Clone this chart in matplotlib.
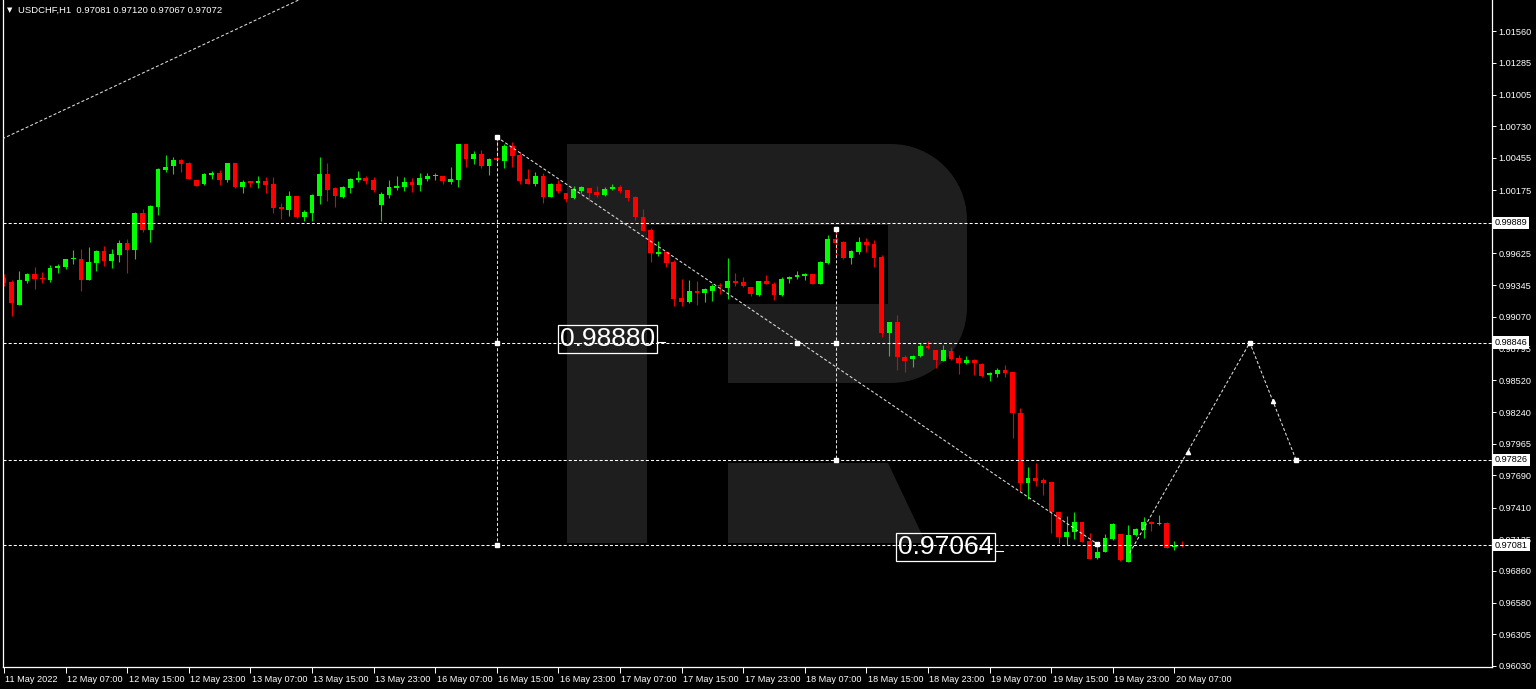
import matplotlib
matplotlib.use('Agg')
import matplotlib.pyplot as plt
import matplotlib.transforms as mtransforms
from matplotlib.path import Path
from matplotlib.patches import PathPatch
import numpy as np

plt.rcParams['font.family'] = ['Liberation Sans', 'DejaVu Sans']
plt.rcParams['lines.scale_dashes'] = False

# ---------------- data (USDCHF H1, 11 May 23:00 .. 20 May 08:00) ----------------
opens = [0.99412, 0.99377, 0.99174, 0.99386, 0.99444, 0.99412, 0.99392, 0.99493, 0.99508, 0.99572,
         0.99575, 0.99392, 0.99543, 0.99644, 0.99560, 0.99609, 0.99711, 0.99653, 0.99978, 0.99827,
         1.00030, 1.00350, 1.00382, 1.00437, 1.00408, 1.00263, 1.00225, 1.00309, 1.00326, 1.00263,
         1.00408, 1.00205, 1.00251, 1.00239, 1.00254, 1.00231, 1.00027, 1.00001, 1.00123, 0.99938,
         0.99978, 1.00123, 1.00318, 1.00190, 1.00118, 1.00190, 1.00263, 1.00280, 1.00263, 1.00045,
         1.00132, 1.00196, 1.00205, 1.00248, 1.00219, 1.00271, 1.00295, 1.00297, 1.00242, 1.00263,
         1.00576, 1.00446, 1.00489, 1.00385, 1.00451, 1.00431, 1.00559, 1.00483, 1.00268, 1.00228,
         1.00297, 1.00117, 1.00228, 1.00146, 1.00106, 1.00167, 1.00196, 1.00158, 1.00132, 1.00181,
         1.00204, 1.00172, 1.00114, 0.99943, 0.99827, 0.99618, 0.99635, 0.99551, 0.99232, 0.99203,
         0.99299, 0.99276, 0.99299, 0.99348, 0.99325, 0.99383, 0.99371, 0.99334, 0.99261, 0.99383,
         0.99357, 0.99261, 0.99400, 0.99415, 0.99429, 0.99444, 0.99357, 0.99543, 0.99746, 0.99725,
         0.99586, 0.99633, 0.99725, 0.99702, 0.99595, 0.98927, 0.99023, 0.98724, 0.98701, 0.98730,
         0.98817, 0.98782, 0.98689, 0.98776, 0.98712, 0.98672, 0.98695, 0.98660, 0.98561, 0.98573,
         0.98608, 0.98587, 0.98236, 0.97621, 0.97664, 0.97650, 0.97629, 0.97374, 0.97156, 0.97194,
         0.97287, 0.97118, 0.96968, 0.97026, 0.97133, 0.97179, 0.96938, 0.97171, 0.97214, 0.97287,
         0.97267, 0.97278, 0.97069, 0.97081]
highs = [0.99441, 0.99392, 0.99470, 0.99456, 0.99508, 0.99459, 0.99522, 0.99528, 0.99575, 0.99653,
         0.99662, 0.99679, 0.99653, 0.99688, 0.99662, 0.99740, 0.99752, 0.99987, 1.00010, 1.00045,
         1.00364, 1.00480, 1.00460, 1.00448, 1.00416, 1.00263, 1.00321, 1.00341, 1.00350, 1.00408,
         1.00408, 1.00263, 1.00257, 1.00297, 1.00286, 1.00286, 1.00065, 1.00167, 1.00123, 1.00001,
         1.00141, 1.00466, 1.00408, 1.00205, 1.00210, 1.00277, 1.00341, 1.00297, 1.00292, 1.00161,
         1.00263, 1.00297, 1.00292, 1.00283, 1.00321, 1.00326, 1.00321, 1.00297, 1.00379, 1.00576,
         1.00576, 1.00518, 1.00524, 1.00457, 1.00640, 1.00576, 1.00596, 1.00503, 1.00355, 1.00335,
         1.00321, 1.00239, 1.00262, 1.00146, 1.00210, 1.00213, 1.00196, 1.00213, 1.00199, 1.00228,
         1.00216, 1.00172, 1.00123, 1.00007, 0.99842, 0.99734, 0.99647, 0.99566, 0.99397, 0.99392,
         0.99380, 0.99319, 0.99357, 0.99363, 0.99580, 0.99450, 0.99415, 0.99334, 0.99383, 0.99435,
         0.99371, 0.99415, 0.99429, 0.99470, 0.99455, 0.99444, 0.99557, 0.99783, 0.99836, 0.99734,
         0.99653, 0.99769, 0.99754, 0.99740, 0.99609, 0.99023, 0.99087, 0.98738, 0.98738, 0.98840,
         0.98863, 0.98782, 0.98825, 0.98811, 0.98741, 0.98730, 0.98701, 0.98666, 0.98587, 0.98628,
         0.98651, 0.98587, 0.98274, 0.97766, 0.97795, 0.97670, 0.97629, 0.97374, 0.97336, 0.97368,
         0.97287, 0.97185, 0.97098, 0.97177, 0.97272, 0.97179, 0.97258, 0.97229, 0.97330, 0.97296,
         0.97345, 0.97287, 0.97118, 0.97120]
lows = [0.99340, 0.99081, 0.99174, 0.99369, 0.99311, 0.99369, 0.99377, 0.99456, 0.99485, 0.99528,
        0.99299, 0.99392, 0.99470, 0.99517, 0.99499, 0.99551, 0.99450, 0.99578, 0.99810, 0.99726,
        0.99961, 1.00335, 1.00315, 1.00335, 1.00271, 1.00213, 1.00219, 1.00271, 1.00219, 1.00248,
        1.00196, 1.00152, 1.00205, 1.00196, 1.00147, 0.99978, 0.99920, 0.99952, 0.99929, 0.99906,
        0.99906, 1.00054, 1.00080, 1.00025, 1.00109, 1.00147, 1.00242, 1.00228, 1.00155, 0.99906,
        1.00103, 1.00176, 1.00170, 1.00155, 1.00170, 1.00254, 1.00263, 1.00228, 1.00228, 1.00205,
        1.00373, 1.00399, 1.00364, 1.00306, 1.00408, 1.00364, 1.00373, 1.00225, 1.00225, 1.00213,
        1.00065, 1.00112, 1.00152, 1.00071, 1.00100, 1.00152, 1.00080, 1.00117, 1.00123, 1.00175,
        1.00152, 1.00080, 0.99914, 0.99818, 0.99551, 0.99601, 0.99502, 0.99168, 0.99168, 0.99194,
        0.99174, 0.99203, 0.99211, 0.99270, 0.99226, 0.99342, 0.99334, 0.99252, 0.99255, 0.99354,
        0.99217, 0.99255, 0.99363, 0.99397, 0.99392, 0.99354, 0.99354, 0.99531, 0.99609, 0.99572,
        0.99531, 0.99618, 0.99638, 0.99502, 0.98898, 0.98730, 0.98608, 0.98593, 0.98637, 0.98724,
        0.98788, 0.98622, 0.98689, 0.98695, 0.98573, 0.98657, 0.98564, 0.98550, 0.98515, 0.98550,
        0.98544, 0.98012, 0.97557, 0.97481, 0.97600, 0.97519, 0.97185, 0.97098, 0.97084, 0.97136,
        0.97113, 0.96959, 0.96962, 0.97020, 0.97127, 0.96947, 0.96933, 0.97165, 0.97142, 0.97208,
        0.97258, 0.97055, 0.97040, 0.97067]
closes = [0.99369, 0.99189, 0.99392, 0.99444, 0.99400, 0.99398, 0.99499, 0.99517, 0.99575, 0.99586,
          0.99392, 0.99551, 0.99644, 0.99557, 0.99618, 0.99711, 0.99653, 0.99978, 0.99824, 1.00036,
          1.00356, 1.00379, 1.00437, 1.00399, 1.00271, 1.00213, 1.00315, 1.00326, 1.00263, 1.00408,
          1.00205, 1.00248, 1.00239, 1.00254, 1.00219, 1.00019, 1.00007, 1.00123, 0.99943, 0.99987,
          1.00132, 1.00318, 1.00176, 1.00123, 1.00205, 1.00271, 1.00280, 1.00254, 1.00176, 1.00141,
          1.00205, 1.00213, 1.00248, 1.00219, 1.00283, 1.00300, 1.00309, 1.00257, 1.00271, 1.00576,
          1.00443, 1.00489, 1.00385, 1.00448, 1.00434, 1.00561, 1.00474, 1.00254, 1.00228, 1.00297,
          1.00117, 1.00228, 1.00164, 1.00100, 1.00181, 1.00199, 1.00149, 1.00135, 1.00187, 1.00204,
          1.00167, 1.00109, 0.99940, 0.99818, 0.99624, 0.99638, 0.99543, 0.99226, 0.99203, 0.99299,
          0.99276, 0.99316, 0.99342, 0.99339, 0.99383, 0.99363, 0.99342, 0.99270, 0.99383, 0.99354,
          0.99261, 0.99400, 0.99421, 0.99438, 0.99444, 0.99357, 0.99548, 0.99746, 0.99717, 0.99586,
          0.99644, 0.99725, 0.99696, 0.99586, 0.98927, 0.99023, 0.98724, 0.98689, 0.98730, 0.98817,
          0.98802, 0.98695, 0.98782, 0.98706, 0.98672, 0.98695, 0.98666, 0.98555, 0.98579, 0.98608,
          0.98579, 0.98236, 0.97621, 0.97664, 0.97644, 0.97621, 0.97374, 0.97156, 0.97194, 0.97287,
          0.97113, 0.96962, 0.97026, 0.97142, 0.97267, 0.96953, 0.97171, 0.97223, 0.97287, 0.97267,
          0.97278, 0.97060, 0.97078, 0.97072]

symbol = "USDCHF,H1"
x_tick_bars = [0, 8, 16, 24, 32, 40, 48, 56, 64, 72, 80, 88, 96, 104, 112, 120, 128, 136, 144, 152]
x_tick_labels = ["11 May 2022", "12 May 07:00", "12 May 15:00", "12 May 23:00", "13 May 07:00",
                 "13 May 15:00", "13 May 23:00", "16 May 07:00", "16 May 15:00", "16 May 23:00",
                 "17 May 07:00", "17 May 15:00", "17 May 23:00", "18 May 07:00", "18 May 15:00",
                 "18 May 23:00", "19 May 07:00", "19 May 15:00", "19 May 23:00", "20 May 07:00"]
y_ticks = [1.01560, 1.01285, 1.01005, 1.00730, 1.00455, 1.00175, 0.99900, 0.99625, 0.99345,
           0.99070, 0.98795, 0.98520, 0.98240, 0.97965, 0.97690, 0.97410, 0.97135, 0.96860,
           0.96580, 0.96305, 0.96030]
hidden_y_ticks = [0.99900]   # fully covered by the 0.99889 level box in the reference

h_levels = [0.99889, 0.98846, 0.97826, 0.97081]
vline1_bar, vline1_top, vline1_bottom = 64, 1.00637, 0.97081
vline2_bar, vline2_top, vline2_bottom = 108, 0.99836, 0.97826
trend_bars = [64, 142]
trend_prices = [1.00637, 0.97092]
old_trend_bars = [-0.2, 38.5]
old_trend_prices = [1.00621, 1.01837]
forecast_bars = [146.2, 161.8, 167.8]
forecast_prices = [0.97014, 0.98846, 0.97826]
forecast_arrow_bars = [153.8, 164.8]
forecast_arrow_prices = [0.97894, 0.98338]
anchor_bars = [64, 64, 64, 108, 108, 108, 103, 142]
anchor_prices = [1.00637, 0.98846, 0.97081, 0.99836, 0.98846, 0.97826, 0.98846, 0.97092]
text_labels = ["0.98880", "0.97064"]
text_bars = [78.4, 122.3]
text_prices = [0.98880, 0.97064]

# ---------------- figure ----------------
W, H = 1536, 689
fig = plt.figure(figsize=(W / 100, H / 100), dpi=100, facecolor='black')
PL, PR, PB, PT = 3, 1492, 667, 0
ax = fig.add_axes([PL / W, 1 - PB / H, (PR - PL) / W, (PB - PT) / H])
ax.set_facecolor('black')
ax.set_xlim(-0.117, 193.25)
ax.set_ylim(0.96021, 1.01830)

# watermark "R" logo (pixel geometry)
pix = mtransforms.Affine2D().scale(1 / W, -1 / H).translate(0, 1) + fig.transFigure
k = 0.55
r = 76
verts = [(567, 144), (967 - r, 144),
         (967 - r + k * r, 144), (967, 144 + r - k * r), (967, 144 + r),
         (967, 383 - r),
         (967, 383 - r + k * r), (967 - r + k * r, 383), (967 - r, 383),
         (728, 383), (728, 304), (888, 304), (888, 225), (647, 225), (647, 543), (567, 543), (567, 144)]
codes = [Path.MOVETO, Path.LINETO,
         Path.CURVE4, Path.CURVE4, Path.CURVE4,
         Path.LINETO,
         Path.CURVE4, Path.CURVE4, Path.CURVE4,
         Path.LINETO, Path.LINETO, Path.LINETO, Path.LINETO, Path.LINETO, Path.LINETO, Path.LINETO,
         Path.CLOSEPOLY]
logo = PathPatch(Path(verts, codes), transform=pix, facecolor='#1e1e1e', edgecolor='none', zorder=0.5)
ax.add_patch(logo)
leg = PathPatch(Path([(728, 463), (888, 463), (926, 543), (728, 543), (728, 463)],
                     [Path.MOVETO, Path.LINETO, Path.LINETO, Path.LINETO, Path.CLOSEPOLY]),
                transform=pix, facecolor='#1e1e1e', edgecolor='none', zorder=0.5)
ax.add_patch(leg)

# candles
o = np.array(opens); hh = np.array(highs); ll = np.array(lows); c = np.array(closes)
xb = np.arange(len(o))
up = c >= o
body_col = np.where(up, '#00ff00', '#ff0000')
wick_col = np.where(up, '#00e000', '#e80000')
ax.vlines(xb, ll, hh, colors=wick_col, linewidth=0.8, zorder=2)
bottom = np.minimum(o, c)
height = np.maximum(np.abs(c - o), 0.00009)
ax.bar(xb, height, bottom=bottom, width=0.62, color=body_col, linewidth=0, zorder=2.5)

# objects
dash = (0, (2.2, 1.5))
for lv in h_levels:
    ax.axhline(lv, color='white', linewidth=0.75, linestyle=dash, zorder=3)
ax.plot([vline1_bar, vline1_bar], [vline1_top, vline1_bottom], color='#e0e0e0', lw=0.75, ls=dash, zorder=3)
ax.plot([vline2_bar, vline2_bar], [vline2_top, vline2_bottom], color='#e0e0e0', lw=0.75, ls=dash, zorder=3)
ax.plot(trend_bars, trend_prices, color='#e0e0e0', lw=0.75, ls=dash, zorder=3)
ax.plot(old_trend_bars, old_trend_prices, color='#e0e0e0', lw=0.75, ls=dash, zorder=3)
ax.plot(forecast_bars, forecast_prices, color='#e0e0e0', lw=0.75, ls=dash, zorder=3)
ax.plot(forecast_bars[1:], forecast_prices[1:], ls='none', marker='s', ms=2.6, color='white', zorder=4)
ax.plot(forecast_arrow_bars, forecast_arrow_prices, ls='none', marker='^', ms=3, color='white', zorder=4)
ax.plot(anchor_bars, anchor_prices, ls='none', marker='s', ms=2.2, color='white', zorder=4)

for t, xb_, yp in zip(text_labels, text_bars, text_prices):
    ax.text(xb_, yp, t, fontsize=19, color='white', ha='center', va='center', zorder=5,
            family=['Liberation Sans'],
            bbox=dict(boxstyle='square,pad=0.08', facecolor='none', edgecolor='white', linewidth=0.9))
    ax.plot([xb_ + 6.45, xb_ + 7.5], [yp - 0.0003, yp - 0.0003], color='white', lw=0.8, zorder=5)

# axes styling
for s in ['left', 'right', 'bottom']:
    ax.spines[s].set_color('white')
    ax.spines[s].set_linewidth(0.9)
ax.spines['top'].set_visible(False)
ax.yaxis.tick_right()
ax.set_yticks(y_ticks)
ax.set_yticklabels(["" if v in hidden_y_ticks else f"{v:.5f}" for v in y_ticks])
ax.set_xticks(x_tick_bars)
ax.set_xticklabels(x_tick_labels)
ax.tick_params(axis='y', colors='white', labelsize=6.6, length=3, width=0.7, pad=1.5)
ax.tick_params(axis='x', colors='white', labelsize=6.6, length=4, width=0.7, pad=1.5)
shift = mtransforms.ScaledTranslation(1.5 / 100, 0, fig.dpi_scale_trans)
for lbl in ax.get_xticklabels():
    lbl.set_horizontalalignment('left')
    lbl.set_transform(lbl.get_transform() + shift)

# right-axis level boxes
blend = mtransforms.blended_transform_factory(ax.transAxes, ax.transData)
box_shift = mtransforms.ScaledTranslation(3 / 100, 0, fig.dpi_scale_trans)
for lv in h_levels:
    ax.text(1.0, lv, f"{lv:.5f}", transform=blend + box_shift, fontsize=6.6, color='black',
            ha='left', va='center', zorder=6, clip_on=False,
            bbox=dict(boxstyle='square,pad=0.18', facecolor='white', edgecolor='none'))

# title
fig.text(7 / W, 1 - 10 / H, "\u25bc", fontsize=5, color='white', va='center', ha='left',
         family=['DejaVu Sans'])
fig.text(18 / W, 1 - 10 / H, f"{symbol}  {o[-1]:.5f} {hh[-1]:.5f} {ll[-1]:.5f} {c[-1]:.5f}",
         fontsize=6.8, color='white', va='center', ha='left')

fig.savefig('out.png', dpi=100, facecolor='black')
